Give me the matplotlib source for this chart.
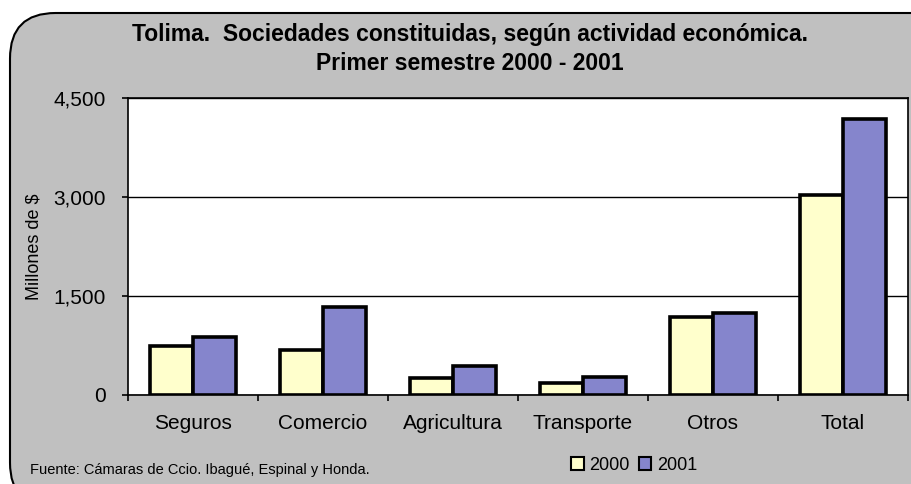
import numpy as np
import matplotlib.pyplot as plt
from matplotlib.patches import FancyBboxPatch, Patch

plt.rcParams['font.family'] = ['Liberation Sans', 'DejaVu Sans']

# Data
categories = ["Seguros", "Comercio", "Agricultura", "Transporte", "Otros", "Total"]
values2000 = [735, 680, 262, 180, 1177, 3030]
values2001 = [880, 1328, 444, 270, 1237, 4177]
yTicks = [0, 1500, 3000, 4500]
yTickLabels = ["0", "1,500", "3,000", "4,500"]

fig = plt.figure(figsize=(9.11, 4.84), dpi=100)

# Rounded grey frame behind everything
frame = FancyBboxPatch((10 / 911, -0.05), 1.2, 1 - 13 / 484 + 0.05,
                       boxstyle="round,pad=0,rounding_size=0.05",
                       transform=fig.transFigure, facecolor="#C0C0C0",
                       edgecolor="black", lw=1.5, zorder=-5, mutation_aspect=911 / 484)
fig.patches.append(frame)

ax = fig.add_axes([128 / 911, 1 - 395 / 484, 780 / 911, 297 / 484])
ax.set_zorder(2)
ax.set_facecolor("white")

x = np.arange(len(categories))
w = 0.33
ax.bar(x - w / 2, values2000, w, color="#FFFFCC", edgecolor="black", lw=2.6, zorder=3, label="2000")
ax.bar(x + w / 2, values2001, w, color="#8585CC", edgecolor="black", lw=2.6, zorder=3, label="2001")

ax.set_xlim(-0.5, len(categories) - 0.5)
ax.set_ylim(0, 4500)
ax.set_yticks(yTicks)
ax.set_yticklabels(yTickLabels, fontsize=15)
ax.set_xticks(x)
ax.set_xticklabels(categories, fontsize=15)
ax.set_xticks(np.arange(len(categories) + 1) - 0.5, minor=True)
ax.tick_params(axis="x", which="major", length=0, pad=14)
ax.tick_params(axis="x", which="minor", length=4, width=1.2, direction="out")
ax.tick_params(axis="y", length=4, width=1.2, direction="out", pad=12)
ax.grid(axis="y", color="black", lw=1, zorder=1)
for s in ax.spines.values():
    s.set_linewidth(1.2)

ax.set_ylabel("Millones de $", fontsize=13)
ax.yaxis.set_label_coords(-0.109, 0.5)

fig.text(0.516, 1 - 35 / 484, "Tolima.  Sociedades constituidas, según actividad económica.",
         ha="center", va="center", fontsize=16.5, fontweight="bold")
fig.text(0.516, 1 - 63 / 484, "Primer semestre 2000 - 2001",
         ha="center", va="center", fontsize=16.5, fontweight="bold")

fig.text(30 / 911, 1 - 470 / 484, "Fuente: Cámaras de Ccio. Ibagué, Espinal y Honda.",
         ha="left", va="center", fontsize=10.5)

handles = [Patch(facecolor="#FFFFCC", edgecolor="black", lw=1.5),
           Patch(facecolor="#8585CC", edgecolor="black", lw=1.5)]
fig.legend(handles, ["2000", "2001"], loc="center", bbox_to_anchor=(634 / 911, 1 - 465 / 484),
           ncol=2, frameon=False, fontsize=13, handlelength=0.7, handleheight=0.7,
           handletextpad=0.3, columnspacing=0.5)

fig.savefig("out.png", dpi=100)
